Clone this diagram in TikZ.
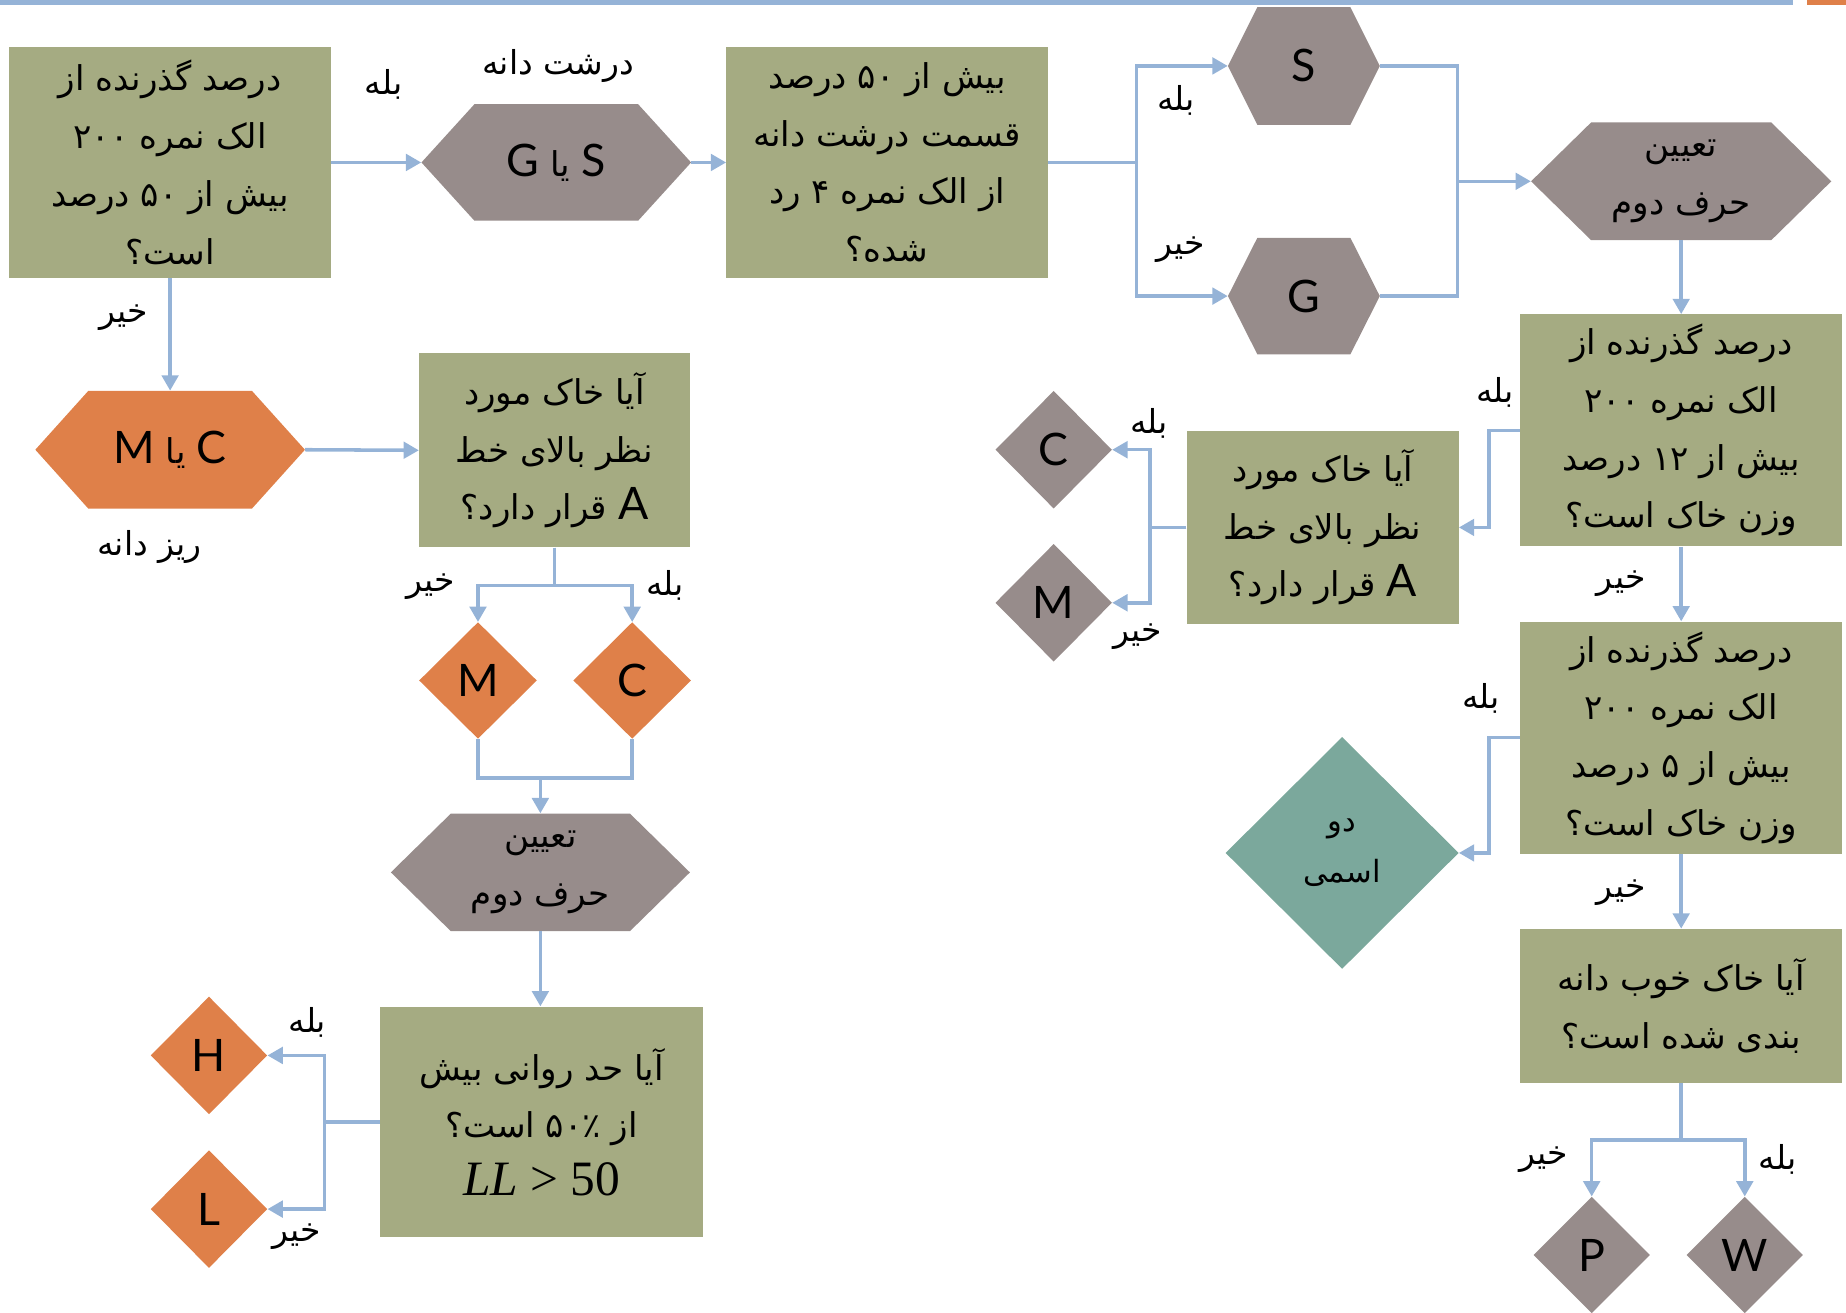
\documentclass[tikz,border=0pt]{standalone}
\usepackage[no-math]{fontspec}
\usetikzlibrary{shapes.geometric,arrows.meta,calc}
\TeXXeTstate=1
\setmainfont{DejaVu Sans}[Script=Arabic]
\newfontfamily\latf{Lato}
\newfontfamily\serf{Liberation Serif}
\newcommand{\ftx}[1]{\beginR #1\endR}
\newcommand{\fsz}{\fontsize{29}{49}\selectfont}
\newcommand{\lsz}{\fontsize{28}{30}\selectfont}
\newcommand{\csz}{\latf\fontsize{38}{40}\selectfont}
\definecolor{grn}{HTML}{A5AB82}
\definecolor{gry}{HTML}{978C8B}
\definecolor{org}{HTML}{DF8049}
\definecolor{tealc}{HTML}{7BA89C}
\definecolor{lnb}{HTML}{95B3D7}
\begin{document}
\begin{tikzpicture}[x=1pt,y=-1pt,
  box/.style={rectangle, fill=grn, inner sep=0pt, align=center, font=\fsz},
  hexa/.style 2 args={rectangle, inner sep=0pt, align=center,
    path picture={\fill[#1] (path picture bounding box.west) -- ([xshift=#2]path picture bounding box.north west) -- ([xshift=-#2]path picture bounding box.north east) -- (path picture bounding box.east) -- ([xshift=-#2]path picture bounding box.south east) -- ([xshift=#2]path picture bounding box.south west) -- cycle;}},
  dia/.style={diamond, inner sep=0pt, fill=#1, font=\csz},
  lbl/.style={inner sep=0pt, font=\lsz},
  ln/.style={draw=lnb, line width=3pt},
  arr/.style={ln, -{Triangle[length=13pt,width=14pt]}}
]
\useasboundingbox (0,0) rectangle (1568,1115);
\fill[lnb] (0,0) rectangle (1523,4);
\fill[org] (1535,0) rectangle (1568,4);

% ---- top row ----
\node[box, minimum width=273pt, minimum height=196pt] (b1) at (144.5,138)
  {\ftx{درصد گذرنده از}\\\ftx{الک نمره ۲۰۰}\\\ftx{بیش از ۵۰ درصد}\\\ftx{است؟}};
\node[hexa={gry}{45pt}, minimum width=229pt, minimum height=99pt, font=\fsz] (h1) at (472.5,138)
  {\ftx{{\csz S} یا {\csz G}}};
\node[box, minimum width=273pt, minimum height=196pt] (b2) at (753.5,138)
  {\ftx{بیش از ۵۰ درصد}\\\ftx{قسمت درشت دانه}\\\ftx{از الک نمره ۴ رد}\\\ftx{شده؟}};
\node[hexa={gry}{25pt}, minimum width=129pt, minimum height=100pt, font=\csz] (hS) at (1107.5,56) {S};
\node[hexa={gry}{25pt}, minimum width=129pt, minimum height=99pt, font=\csz] (hG) at (1107.5,251.5) {G};
\node[hexa={gry}{51pt}, minimum width=255pt, minimum height=100pt, font=\fsz] (h3) at (1428,154)
  {\ftx{تعیین}\\\ftx{حرف دوم}};

% ---- right column ----
\node[box, minimum width=274pt, minimum height=197pt] (bR1) at (1428,365.5)
  {\ftx{درصد گذرنده از}\\\ftx{الک نمره ۲۰۰}\\\ftx{بیش از ۱۲ درصد}\\\ftx{وزن خاک است؟}};
\node[box, minimum width=231pt, minimum height=164pt] (bAr) at (1123.5,448)
  {\ftx{آیا خاک مورد}\\\ftx{نظر بالای خط}\\\ftx{{\csz A} قرار دارد؟}};
\node[dia=gry, minimum width=99pt, minimum height=100pt] (dCr) at (895,382) {C};
\node[dia=gry, minimum width=99pt, minimum height=100pt] (dMr) at (895,512) {M};
\node[box, minimum width=274pt, minimum height=197pt] (bR3) at (1428,626.5)
  {\ftx{درصد گذرنده از}\\\ftx{الک نمره ۲۰۰}\\\ftx{بیش از ۵ درصد}\\\ftx{وزن خاک است؟}};
\node[dia=tealc, minimum width=198pt, minimum height=197pt, align=center, font=\fontsize{26}{43}\selectfont] (teal) at (1140,724.5)
  {\ftx{دو}\\\ftx{اسمی}};
\node[box, minimum width=274pt, minimum height=131pt] (bR4) at (1428,854.5)
  {\ftx{آیا خاک خوب دانه}\\\ftx{بندی شده است؟}};
\node[dia=gry, minimum width=99pt, minimum height=99pt] (dP) at (1352,1066) {P};
\node[dia=gry, minimum width=99pt, minimum height=99pt] (dW) at (1482,1066) {W};

% ---- left column ----
\node[hexa={org}{45pt}, minimum width=229pt, minimum height=100pt, font=\fsz] (hCM) at (144.5,382)
  {\ftx{{\csz C} یا {\csz M}}};
\node[box, minimum width=230pt, minimum height=165pt] (bL2) at (471,382.5)
  {\ftx{آیا خاک مورد}\\\ftx{نظر بالای خط}\\\ftx{{\csz A} قرار دارد؟}};
\node[dia=org, minimum width=100pt, minimum height=99pt] (dM) at (406,578) {M};
\node[dia=org, minimum width=100pt, minimum height=99pt] (dC) at (537,578) {C};
\node[hexa={gry}{51pt}, minimum width=254pt, minimum height=100pt, font=\fsz] (h4) at (459,741)
  {\ftx{تعیین}\\\ftx{حرف دوم}};
\node[box, minimum width=274pt, minimum height=196pt] (bL3) at (460,953)
  {\ftx{آیا حد روانی بیش}\\\ftx{از ۵۰٪ است؟}\\{\serf\fontsize{42}{49}\selectfont\itshape LL\upshape\ >\ 50}};
\node[dia=org, minimum width=99pt, minimum height=100pt] (dH) at (177.5,896.5) {H};
\node[dia=org, minimum width=99pt, minimum height=100pt] (dL) at (177.5,1027) {L};

% ---- labels ----
\node[lbl] (l1) at (326,72) {\ftx{بله}};
\node[lbl] (l2) at (474,56) {\ftx{درشت دانه}};
\node[lbl] (l3) at (999,85) {\ftx{بله}};
\node[lbl] (l4) at (1003,212) {\ftx{خیر}};
\node[lbl] (l5) at (105,270) {\ftx{خیر}};
\node[lbl] (l6) at (127,465) {\ftx{ریز دانه}};
\node[lbl] (l7) at (366,498) {\ftx{خیر}};
\node[lbl] (l8) at (565,497) {\ftx{بله}};
\node[lbl] (l9) at (1270,333) {\ftx{بله}};
\node[lbl] (l10) at (976,360) {\ftx{بله}};
\node[lbl] (l11) at (966,541) {\ftx{خیر}};
\node[lbl] (l12) at (1377,496) {\ftx{خیر}};
\node[lbl] (l13) at (1258,593) {\ftx{بله}};
\node[lbl] (l14) at (1377,758) {\ftx{خیر}};
\node[lbl] (l15) at (1311,985) {\ftx{خیر}};
\node[lbl] (l16) at (1510,985) {\ftx{بله}};
\node[lbl] (l17) at (261,868) {\ftx{بله}};
\node[lbl] (l18) at (252,1050) {\ftx{خیر}};

% ---- connectors ----
\draw[arr] (b1.east) -- (h1.west);
\draw[arr] (h1.east) -- (b2.west);
\draw[arr] (b2.east) -- ++(75,0) |- (hS.west);
\draw[arr] (b2.east) -- ++(75,0) |- (hG.west);
\coordinate (j1) at (1238,154);
\draw[ln] (hS.east) -| (j1) |- (hG.east);
\draw[arr] (j1) -- (h3.west);
\draw[arr] (h3.south) -- (bR1.north);
\draw[arr] (bR1.west) -- ++(-26,0) |- (bAr.east);
\draw[arr] (bAr.west) -- ++(-31,0) |- (dCr.east);
\draw[arr] (bAr.west) -- ++(-31,0) |- (dMr.east);
\draw[arr] (bR1.south) -- (bR3.north);
\draw[arr] (bR3.west) -- ++(-26,0) |- (teal.east);
\draw[arr] (bR3.south) -- (bR4.north);
\draw[arr] (bR4.south) -- ++(0,48) -| (dP.north);
\draw[arr] (bR4.south) -- ++(0,48) -| (dW.north);

\draw[arr] (b1.south) -- (hCM.north);
\draw[arr] (hCM.east) -- (bL2.west);
\draw[arr] (bL2.south) -- ++(0,32) -| (dM.north);
\draw[arr] (bL2.south) -- ++(0,32) -| (dC.north);
\draw[ln] (dM.south) -- ++(0,33) -| (dC.south);
\coordinate (j2) at (459,660);
\draw[arr] (j2) -- (h4.north);
\draw[arr] (h4.south) -- (bL3.north -| h4.south);
\draw[arr] (bL3.west) -- ++(-47,0) |- (dH.east);
\draw[arr] (bL3.west) -- ++(-47,0) |- (dL.east);
\end{tikzpicture}
\end{document}
